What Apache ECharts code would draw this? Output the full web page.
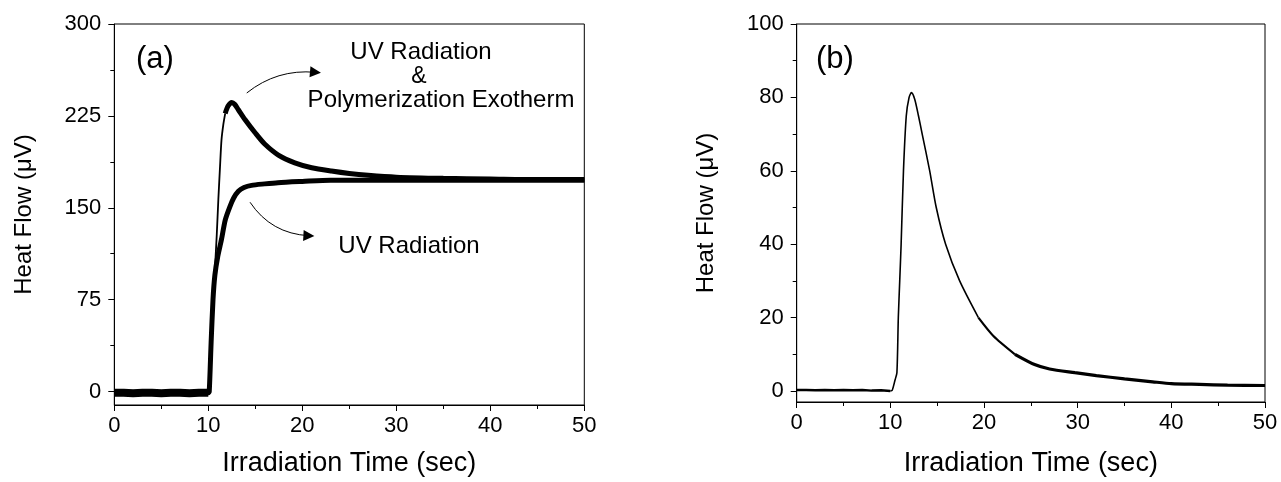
<!DOCTYPE html>
<html>
<head>
<meta charset="utf-8">
<script src="https://cdn.jsdelivr.net/npm/echarts@6/dist/echarts.min.js"></script>
<style>
html,body{margin:0;padding:0;background:#fff;}
#chart{width:1281px;height:482px;}
</style>
</head>
<body>
<div id="chart"></div>
<script>
// ---- Panel (a): UV radiation only ----
const uvTime = [0,1,2,3,4,5,6,7,8,9,10,10.1,10.3,10.5,10.7,11,11.4,11.8,12.3,12.7,13.2,13.8,14.6,16,17.4,20,23,26,30,35,40,45,50];
const uvHeat = [-1,-1,-1.5,-1,-1,-1.5,-1,-1,-1.5,-1,-1,0,40,75,95,110,124,140,151,158,163.5,166.5,168.3,169.5,170.5,171.5,172.5,172.5,172.5,172.5,172.5,172.5,172.5];
// ---- Panel (a): UV radiation & polymerization exotherm ----
const polyTime = [0,1,2,3,4,5,6,7,8,9,10,10.1,10.3,10.5,10.7,10.9,11.07,11.25,11.4,11.6,11.8,12.1,12.5,12.8,13.2,13.9,15,16,17.45,19.2,21,23.1,25,27,30,35,40,45,50];
const polyHeat = [-1,-1,-1.5,-1,-1,-1.5,-1,-1,-1.5,-1,-1,0,40,80,100,128,157,184,205,218,227,233,236,234.5,230,222,211,202,193,186.7,182.7,180,178,176.5,175,174,173.5,173,173];
// ---- Panel (b): difference (polymerization exotherm) ----
const dscTime = [0,1,2,3,4,5,6,7,8,9,10,10.2,10.5,10.7,10.85,11.0,11.15,11.4,11.7,12.0,12.25,12.6,13.0,13.4,14.2,14.9,15.9,17.4,19.4,21,23.3,25.4,27,29.7,32,35,38,40,43,46,50];
const dscHeat = [0.3,0.3,0.2,0.3,0.2,0.3,0.2,0.3,0.1,0.2,0,0.2,3,5,20,30,40,60,75,80,81.3,79.5,75,70,60,50,40,30,20,15,10,7.2,6,5,4.2,3.3,2.5,2.0,1.8,1.6,1.5];

// ---- Axis ticks ----
const xTicks = [0,10,20,30,40,50];
const yTicksA = [0,75,150,225,300];
const yMinorA = [37.5,112.5,187.5,262.5];
const yTicksB = [0,20,40,60,80,100];
const yMinorB = [10,30,50,70,90];

// ---- Annotation arrows (data coordinates of panel a) ----
const arrowUpper = [[14.09,243.7],[21.4,260.6]];
const arrowLower = [[14.44,154.5],[20.7,127.2]];

const FONT = '"Liberation Sans", Arial, Helvetica, sans-serif';
const pairs = (xs, ys) => xs.map((x, i) => [x, ys[i]]);

const uvData = pairs(uvTime, uvHeat);
const polyData = pairs(polyTime, polyHeat);
const dscData = pairs(dscTime, dscHeat);
const baseIdx = uvTime.indexOf(10) + 1;
const polySplit = polyTime.indexOf(11.8);
const dscSplit = dscTime.indexOf(19.4);
const dscSplit2 = dscTime.indexOf(23.3);

function xAxisCfg(grid) {
  return {
    type: 'value', gridIndex: grid, min: 0, max: 50, interval: 10,
    axisLine: {show: true, onZero: false, lineStyle: {color: '#000', width: 1}},
    axisTick: {show: true, length: 6, inside: false, lineStyle: {color: '#000', width: 1}},
    minorTick: {show: true, splitNumber: 2, length: 4, lineStyle: {color: '#000', width: 1}},
    axisLabel: {fontSize: 22, color: '#000', margin: 10, fontFamily: FONT},
    splitLine: {show: false}, minorSplitLine: {show: false},
    name: 'Irradiation Time (sec)', nameLocation: 'middle',
    nameGap: grid === 0 ? 45 : 48,
    nameTextStyle: {fontSize: 27, color: '#000', fontFamily: FONT}
  };
}
function yAxisCfg(grid, min, max, ticks) {
  return {
    type: 'value', gridIndex: grid, min: min, max: max, position: 'left',
    axisLine: {show: true, onZero: false, lineStyle: {color: '#000', width: 1}},
    axisTick: {show: true, length: 6, inside: false, customValues: ticks, lineStyle: {color: '#000', width: 1}},
    axisLabel: {fontSize: 22, color: '#000', margin: 13, customValues: ticks, fontFamily: FONT},
    splitLine: {show: false},
    name: 'Heat Flow (\u03bcV)', nameLocation: 'middle', nameGap: 78,
    nameTextStyle: {fontSize: 24, color: '#000', fontFamily: FONT}
  };
}
function yMinorCfg(grid, min, max, ticks) {
  return {
    type: 'value', gridIndex: grid, min: min, max: max, position: 'left', offset: 0,
    axisLine: {show: false},
    axisTick: {show: true, length: 4, inside: false, customValues: ticks, lineStyle: {color: '#000', width: 1}},
    axisLabel: {show: false},
    splitLine: {show: false}
  };
}

const lineBase = {type: 'line', showSymbol: false, symbol: 'none', animation: false, silent: true, z: 3,
  smooth: 0.25};

const option = {
  animation: false,
  backgroundColor: '#fff',
  grid: [
    {left: 114.3, right: 696.7, top: 24, bottom: 75.3, show: true, borderColor: '#000', borderWidth: 1, backgroundColor: 'transparent'},
    {left: 796.7, right: 16, top: 24, bottom: 78.7, show: true, borderColor: '#000', borderWidth: 1, backgroundColor: 'transparent'}
  ],
  xAxis: [xAxisCfg(0), xAxisCfg(1)],
  yAxis: [
    yAxisCfg(0, -11, 300, yTicksA),
    yMinorCfg(0, -11, 300, yMinorA),
    yAxisCfg(1, -3, 100, yTicksB),
    yMinorCfg(1, -3, 100, yMinorB)
  ],
  series: [
    Object.assign({}, lineBase, {name: 'baseline', xAxisIndex: 0, yAxisIndex: 0, data: uvData.slice(0, baseIdx),
      smooth: false, lineStyle: {color: '#000', width: 8}}),
    Object.assign({}, lineBase, {name: 'UV Radiation', xAxisIndex: 0, yAxisIndex: 0, data: uvData,
      lineStyle: {color: '#000', width: 5}}),
    Object.assign({}, lineBase, {name: 'UV + Exotherm rise', xAxisIndex: 0, yAxisIndex: 0, data: polyData.slice(0, polySplit + 1),
      lineStyle: {color: '#000', width: 1.8}}),
    Object.assign({}, lineBase, {name: 'UV + Exotherm', xAxisIndex: 0, yAxisIndex: 0, data: polyData.slice(polySplit),
      lineStyle: {color: '#000', width: 5}}),
    {
      type: 'lines', coordinateSystem: 'cartesian2d', xAxisIndex: 0, yAxisIndex: 0,
      symbol: ['none', 'triangle'], symbolSize: 11, silent: true, animation: false, z: 4,
      lineStyle: {color: '#000', width: 1, opacity: 1, curveness: 0.2},
      data: [{coords: arrowUpper}]
    },
    {
      type: 'lines', coordinateSystem: 'cartesian2d', xAxisIndex: 0, yAxisIndex: 0,
      symbol: ['none', 'triangle'], symbolSize: 11, silent: true, animation: false, z: 4,
      lineStyle: {color: '#000', width: 1, opacity: 1, curveness: -0.25},
      data: [{coords: arrowLower}]
    },
    Object.assign({}, lineBase, {name: 'Exotherm base', xAxisIndex: 1, yAxisIndex: 2, data: dscData.slice(0, 11),
      smooth: false, lineStyle: {color: '#000', width: 2.5}}),
    Object.assign({}, lineBase, {name: 'Exotherm', xAxisIndex: 1, yAxisIndex: 2, data: dscData.slice(10, dscSplit + 1),
      lineStyle: {color: '#000', width: 1.6}}),
    Object.assign({}, lineBase, {name: 'Exotherm mid', xAxisIndex: 1, yAxisIndex: 2, data: dscData.slice(dscSplit, dscSplit2 + 1),
      lineStyle: {color: '#000', width: 2.2}}),
    Object.assign({}, lineBase, {name: 'Exotherm tail', xAxisIndex: 1, yAxisIndex: 2, data: dscData.slice(dscSplit2),
      lineStyle: {color: '#000', width: 3.2}})
  ],
  graphic: [
    {type: 'text', left: 136, top: 44, style: {text: '(a)', fontSize: 31, fontFamily: FONT, fill: '#000'}},
    {type: 'text', left: 816, top: 44, style: {text: '(b)', fontSize: 31, fontFamily: FONT, fill: '#000'}},
    {type: 'text', x: 421, y: 52, style: {text: 'UV Radiation', fontSize: 24, fontFamily: FONT, fill: '#000', align: 'center', verticalAlign: 'middle'}},
    {type: 'text', x: 419, y: 77, style: {text: '&', fontSize: 23, fontFamily: FONT, fill: '#000', align: 'center', verticalAlign: 'middle'}},
    {type: 'text', x: 441, y: 100, style: {text: 'Polymerization Exotherm', fontSize: 24, fontFamily: FONT, fill: '#000', align: 'center', verticalAlign: 'middle'}},
    {type: 'text', x: 409, y: 246, style: {text: 'UV Radiation', fontSize: 24, fontFamily: FONT, fill: '#000', align: 'center', verticalAlign: 'middle'}}
  ]
};

const chart = echarts.init(document.getElementById('chart'), null, {renderer: 'canvas'});
chart.setOption(option);
</script>
</body>
</html>
